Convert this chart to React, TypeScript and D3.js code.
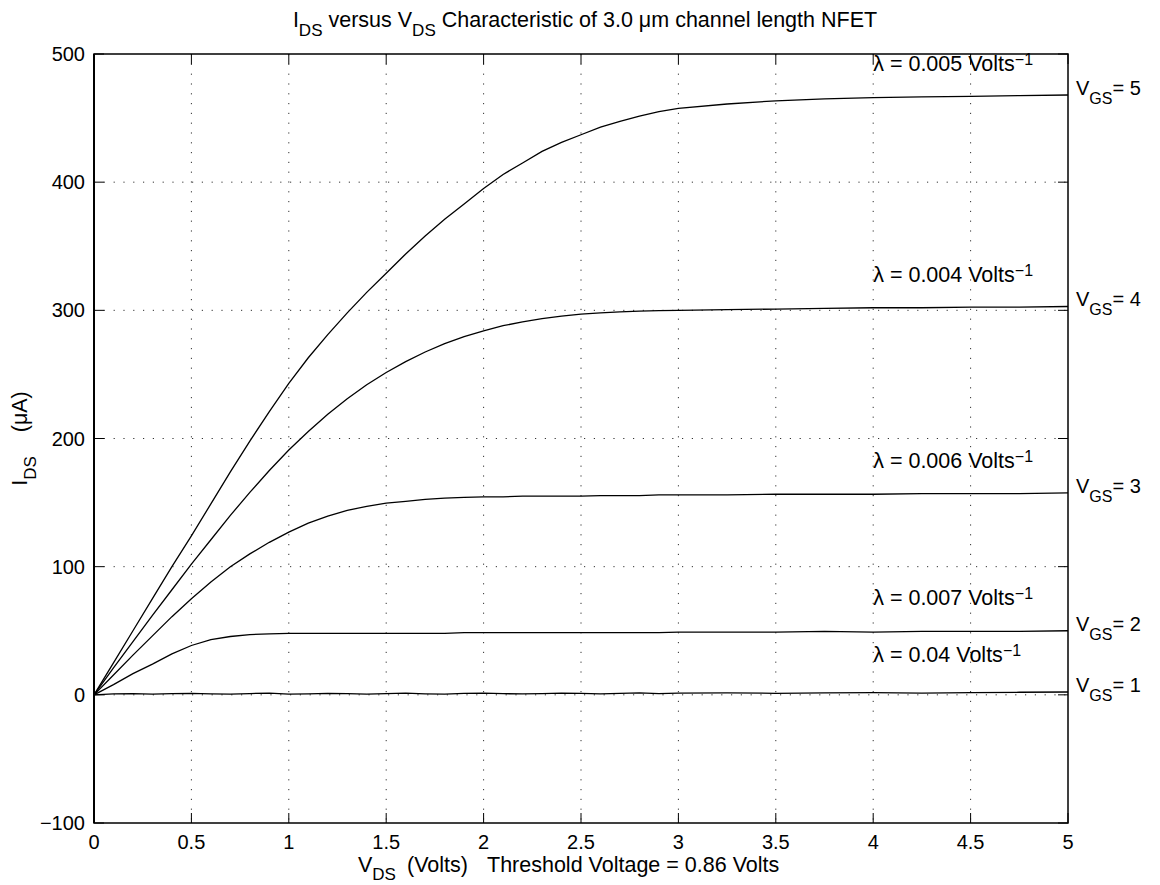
import React from "react";
import * as d3 from "d3";

// ---------- data ----------
const VDS = [0, 0.1, 0.2, 0.3, 0.4, 0.5, 0.6, 0.7, 0.8, 0.9, 1.0, 1.1, 1.2, 1.3, 1.4, 1.5, 1.6, 1.7, 1.8, 1.9, 2.0,
  2.1, 2.2, 2.3, 2.4, 2.5, 2.6, 2.7, 2.8, 2.9, 3.0, 3.25, 3.5, 3.75, 4.0, 4.25, 4.5, 4.75, 5.0];

const IDS_VGS1 = [0, 0.8, 1.0, 0.6, 0.9, 1.2, 0.7, 0.5, 1.0, 1.3, 0.6, 0.8, 1.2, 0.9, 0.5, 1.0, 1.3, 0.8, 0.6, 1.1, 1.3,
  0.9, 0.7, 1.0, 1.4, 1.1, 0.8, 1.2, 1.5, 1.0, 1.3, 1.6, 1.2, 1.5, 1.8, 1.4, 1.7, 2.0, 2.2];
const IDS_VGS2 = [0, 8, 16.5, 24, 32, 38.5, 43, 45.5, 47, 47.5, 48, 48, 48, 48, 48, 48, 48, 48, 48, 48.5, 48.5,
  48.5, 48.5, 48.5, 48.5, 48.5, 48.5, 48.5, 48.5, 48.5, 49, 49, 49, 49.5, 49, 49.5, 49.5, 49.5, 50];
const IDS_VGS3 = [0, 15.5, 31, 46, 61, 75, 88, 100, 110, 119, 127, 134, 139.5, 144, 147, 149.5, 151, 152.5, 153.5, 154, 154.5,
  154.5, 155, 155, 155, 155, 155.5, 155.5, 155.5, 156, 156, 156, 156.5, 156.5, 156.5, 157, 157, 157, 157.5];
const IDS_VGS4 = [0, 21, 41.5, 62, 82, 102, 121, 140, 158, 175, 191, 205.5, 219, 231, 242, 251.5, 260, 267.5, 274, 279.5, 284,
  288, 291, 293.5, 295.5, 297, 298, 298.8, 299.4, 299.8, 300, 300.5, 301, 301.5, 302, 302, 302.5, 302.5, 303];
const IDS_VGS5 = [0, 25, 50, 75, 100, 124, 149, 174, 198, 221, 243, 263, 281, 298, 314, 329, 344, 358, 371, 383, 395,
  406, 415, 424, 431, 437, 443, 447.5, 451.5, 455, 457.5, 461, 463.5, 465, 466, 466.5, 467, 467.5, 468];

const SERIES = [IDS_VGS1, IDS_VGS2, IDS_VGS3, IDS_VGS4, IDS_VGS5];
const VGS_LABELS = ["1", "2", "3", "4", "5"];
const LAMBDA_LABELS = ["0.04", "0.007", "0.006", "0.004", "0.005"];
const LAMBDA_ANCHOR_V = 4;
const LAMBDA_ANCHOR_I = [26, 70, 177, 322, 487];

const X_TICKS = [0, 0.5, 1, 1.5, 2, 2.5, 3, 3.5, 4, 4.5, 5];
const X_TICK_LABELS = ["0", "0.5", "1", "1.5", "2", "2.5", "3", "3.5", "4", "4.5", "5"];
const Y_TICKS = [-100, 0, 100, 200, 300, 400, 500];
const Y_TICK_LABELS = ["\u2212100", "0", "100", "200", "300", "400", "500"];

// ---------- layout ----------
const W = 1160, H = 885;
const L = 94, R = 1068, T = 54, B = 823;
const FONT = "'Liberation Sans', Arial, Helvetica, sans-serif";
const FS = 20;     // tick labels
const LFS = 21.5;  // title / axis labels / annotations
const SUB = 17;
const SUP = 16;

export default function App() {
  const x = d3.scaleLinear().domain([0, 5]).range([L, R]);
  const y = d3.scaleLinear().domain([-100, 500]).range([B, T]);
  const line = d3.line<number>().x((_, i) => x(VDS[i])).y((d) => y(d));
  const cx = (L + R) / 2;
  const cy = (T + B) / 2;

  return (
    <svg width={W} height={H} style={{ position: "absolute", left: 0, top: 0, background: "#fff" }}
      fontFamily={FONT} fontSize={FS}>
      <rect x={0} y={0} width={W} height={H} fill="#fff" />
      {/* grid */}
      <g stroke="#333" strokeWidth={1} strokeDasharray="1.2 8.6">
        {X_TICKS.slice(1, -1).map((t) => (
          <line key={"gx" + t} x1={x(t)} x2={x(t)} y1={T} y2={B} />
        ))}
        {Y_TICKS.slice(1, -1).map((t) => (
          <line key={"gy" + t} x1={L} x2={R} y1={y(t)} y2={y(t)} />
        ))}
      </g>
      {/* ticks */}
      <g stroke="#000" strokeWidth={1}>
        {X_TICKS.map((t) => (
          <g key={"tx" + t}>
            <line x1={x(t)} x2={x(t)} y1={B} y2={B - 10} />
            <line x1={x(t)} x2={x(t)} y1={T} y2={T + 10} />
          </g>
        ))}
        {Y_TICKS.map((t) => (
          <g key={"ty" + t}>
            <line x1={L} x2={L + 10} y1={y(t)} y2={y(t)} />
            <line x1={R} x2={R - 10} y1={y(t)} y2={y(t)} />
          </g>
        ))}
      </g>
      {/* curves */}
      <g fill="none" stroke="#000" strokeWidth={1.3}>
        {SERIES.map((s, i) => (
          <path key={"c" + i} d={line(s) || ""} />
        ))}
      </g>
      {/* box */}
      <rect x={L} y={T} width={R - L} height={B - T} fill="none" stroke="#000" strokeWidth={1.5} />
      <line x1={L} x2={L} y1={T} y2={B} stroke="#000" strokeWidth={2} />
      {/* tick labels */}
      {X_TICKS.map((t, i) => (
        <text key={"lx" + t} x={x(t)} y={B + 26} textAnchor="middle">{X_TICK_LABELS[i]}</text>
      ))}
      {Y_TICKS.map((t, i) => (
        <text key={"ly" + t} x={L - 9} y={y(t) + 7} textAnchor="end">{Y_TICK_LABELS[i]}</text>
      ))}
      {/* annotations */}
      {SERIES.map((s, i) => {
        const endI = s[s.length - 1];
        return (
          <g key={"ann" + i}>
            <text x={x(LAMBDA_ANCHOR_V)} y={y(LAMBDA_ANCHOR_I[i])} fontSize={LFS}>
              {"\u03bb = " + LAMBDA_LABELS[i] + " Volts"}
              <tspan dy={-6} fontSize={SUP}>{"\u22121"}</tspan>
            </text>
            <text x={R + 8} y={y(endI)} fontSize={FS}>
              {"V"}
              <tspan dy={9} fontSize={16}>GS</tspan>
              <tspan dy={-9}>{"= " + VGS_LABELS[i]}</tspan>
            </text>
          </g>
        );
      })}
      {/* title */}
      <text x={cx + 4} y={27} textAnchor="middle" fontSize={LFS}>
        {"I"}
        <tspan dy={9} fontSize={SUB}>DS</tspan>
        <tspan dy={-9}>{" versus V"}</tspan>
        <tspan dy={9} fontSize={SUB}>DS</tspan>
        <tspan dy={-9}>{" Characteristic of 3.0 \u03bcm channel length NFET"}</tspan>
      </text>
      {/* x label */}
      <text y={872} fontSize={LFS}>
        <tspan x={cx - 223}>V</tspan>
        <tspan dy={8} fontSize={SUB}>DS</tspan>
        <tspan x={cx - 174} dy={-8}>(Volts)</tspan>
        <tspan x={cx - 94}>Threshold Voltage = 0.86 Volts</tspan>
      </text>
      {/* y label */}
      <text transform={`translate(27,${cy}) rotate(-90)`} textAnchor="middle" fontSize={LFS} style={{ whiteSpace: "pre" }}>
        {"I"}
        <tspan dy={9} fontSize={SUB}>DS</tspan>
        <tspan dy={-9}>{"    (\u03bcA)"}</tspan>
      </text>
    </svg>
  );
}
